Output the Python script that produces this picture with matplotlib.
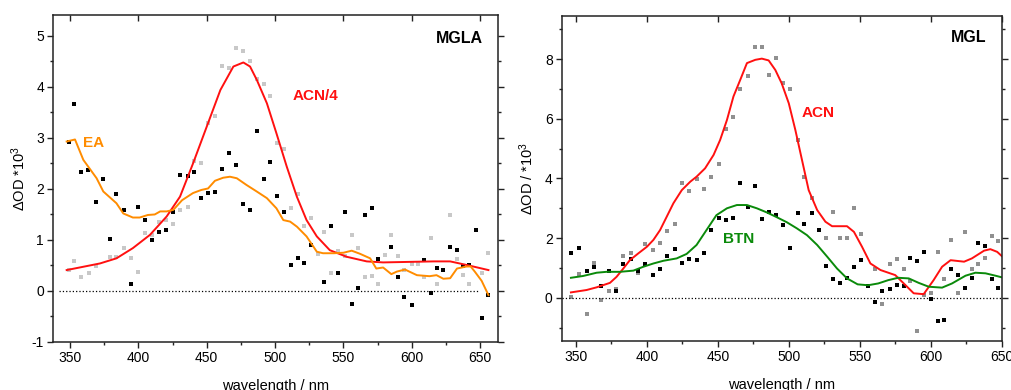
# Imports
import numpy as np
import matplotlib
matplotlib.use('Agg')
import matplotlib.pyplot as plt
from matplotlib.ticker import MultipleLocator

plt.rcParams['font.family'] = ['Liberation Sans', 'DejaVu Sans']
plt.rcParams['mathtext.fontset'] = 'custom'
plt.rcParams['mathtext.rm'] = 'Liberation Sans'
plt.rcParams['mathtext.it'] = 'Liberation Sans:italic'
plt.rcParams['axes.unicode_minus'] = False

# ---------------- MGLA panel data ----------------
# ACN/4 fit (red)
mgla_acn_wl = [347.6, 372, 384, 396, 408.5, 420.7, 430.5, 440, 450, 460, 469.5, 476.8, 481.7,
               486.6, 494, 501, 508.5, 515.9, 523, 530.5, 540, 552.4, 567, 579, 616, 628, 640, 656]
mgla_acn = [0.41, 0.54, 0.64, 0.84, 1.10, 1.46, 1.85, 2.50, 3.22, 3.94, 4.40, 4.48, 4.40,
            4.14, 3.68, 3.09, 2.44, 1.85, 1.39, 1.07, 0.80, 0.67, 0.58, 0.56, 0.58, 0.58, 0.51, 0.41]

# EA trace (orange)
mgla_ea_wl = [347.6, 353.7, 359.8, 369.5, 374.4, 384, 389, 396, 401, 407, 412, 416, 420.7, 425.6,
              432, 440, 446, 451, 456, 462, 467, 472, 479, 486.6, 494, 501, 506, 511, 516, 523,
              530.5, 535, 543, 550, 556, 562, 569.5, 574, 579, 585, 589, 595, 603.7, 613, 618,
              623, 628, 633, 640, 643, 646, 651, 656]
mgla_ea = [2.93, 2.97, 2.57, 2.21, 1.95, 1.72, 1.52, 1.44, 1.44, 1.49, 1.50, 1.56, 1.56, 1.59,
           1.78, 1.92, 1.98, 2.01, 2.16, 2.22, 2.24, 2.21, 2.08, 1.95, 1.82, 1.62, 1.39, 1.36, 1.26, 1.07,
           0.77, 0.74, 0.74, 0.75, 0.79, 0.73, 0.64, 0.44, 0.46, 0.33, 0.38, 0.42, 0.31, 0.29, 0.31,
           0.24, 0.25, 0.44, 0.48, 0.48, 0.38, 0.20, -0.08]

# EA raw points (black)
mgla_ea_pts_wl = [349, 353, 358, 363.4, 369, 374, 379, 384, 389.5, 395, 400, 405, 410, 415, 420.5,
                  425.6, 430.7, 436, 441, 446, 451, 456, 461.5, 466, 471.5, 476.6, 481.7, 486.6,
                  491.7, 496.6, 501.7, 506.6, 511.5, 516.6, 521.5, 526.6, 536, 541, 546, 551, 556,
                  560.7, 565.6, 570.5, 575, 585, 589.8, 594.6, 599.8, 609, 614, 618.5, 623, 628,
                  633, 637.6, 642, 646.8, 651.5, 656]
mgla_ea_pts = [2.93, 3.67, 2.33, 2.37, 1.75, 2.20, 1.02, 1.90, 1.58, 0.13, 1.65, 1.40, 1.00, 1.15, 1.20,
               1.55, 2.27, 2.25, 2.33, 1.82, 1.92, 1.95, 2.40, 2.70, 2.46, 1.70, 1.58, 3.13,
               2.20, 2.52, 1.87, 1.55, 0.50, 0.65, 0.54, 0.90, 0.17, 1.27, 0.35, 1.54, -0.25,
               0.05, 1.48, 1.62, 0.62, 0.87, 0.27, -0.12, -0.27, 0.60, -0.03, 0.45, 0.42, 0.87,
               0.80, 0.48, 0.50, 1.20, -0.53, -0.08]

# ACN/4 raw points (light grey)
mgla_acn_pts_wl = [349, 353, 358, 363.7, 369, 379, 384, 389.5, 395, 400, 405, 410, 415, 420.5, 425.6,
                   430.7, 436, 441, 446, 451, 456, 461.5, 466, 471.5, 476.6, 481.7, 486.6, 491.7,
                   496.6, 501.7, 506.6, 511.5, 516.6, 521.5, 526.6, 531.5, 536, 541, 546, 551, 556,
                   560.7, 565.6, 570.5, 575, 580.5, 585, 589.8, 594.6, 599.8, 604.5, 609, 614,
                   618.5, 623, 628, 633, 637.6, 642, 651.5, 656]
mgla_acn_pts = [0.41, 0.58, 0.27, 0.35, 0.48, 0.67, 0.67, 0.84, 0.65, 0.37, 1.13, 1.09, 1.36, 1.39, 1.31,
                1.58, 1.65, 2.54, 2.50, 3.30, 3.43, 4.42, 4.37, 4.77, 4.71, 4.50, 4.15, 4.05,
                3.82, 2.90, 2.78, 1.62, 1.90, 1.27, 1.44, 0.73, 1.15, 0.35, 0.79, 0.69, 1.09,
                0.85, 0.28, 0.30, 0.13, 0.71, 1.09, 0.69, 0.42, 0.53, 0.53, 0.27, 1.03,
                0.14, 0.42, 1.48, 0.62, 0.31, 0.14, 0.35, 0.75]

# ---------------- MGL panel data ----------------
# ACN fit (red)
mgl_acn_wl = [346.5, 357.5, 364.6, 374, 378.6, 383.4, 388, 394, 400, 404.6, 409.3, 414, 418.7, 424.6,
              430.5, 435, 441, 447, 451.6, 456.4, 461, 465.8, 470.5, 476.4, 481, 485.8, 490.5, 495,
              500, 504.6, 509.3, 514, 520, 525.8, 530.5, 541, 545.9, 551.6, 557.5, 564.6, 575, 581,
              588, 595, 602, 608, 614, 623.5, 629, 637.6, 642, 646.8, 650.5]
mgl_acn = [0.18, 0.26, 0.35, 0.50, 0.70, 0.98, 1.26, 1.49, 1.71, 1.94, 2.27, 2.72, 3.17, 3.61,
           3.89, 4.06, 4.34, 4.79, 5.29, 5.96, 6.75, 7.31, 7.87, 7.98, 8.02, 7.96, 7.64, 7.19,
           6.52, 5.63, 4.62, 3.61, 2.94, 2.55, 2.40, 2.40, 2.21, 1.71, 1.15, 0.93, 0.76, 0.48,
           0.15, 0.12, 0.59, 1.04, 1.26, 1.21, 1.32, 1.58, 1.63, 1.54, 1.38]

# BTN fit (green)
mgl_btn_wl = [346.5, 355, 364.6, 371.6, 381, 390.5, 397.5, 404.6, 411.6, 421, 428, 435, 442, 449,
              456.4, 463.4, 470.5, 477.5, 484.6, 491.6, 498.7, 505.6, 512.8, 520, 527, 534, 541,
              548.5, 555.8, 563, 570, 577, 584.5, 591.5, 598.6, 608, 615, 624.5, 631.5, 638.6,
              645.6, 650.5]
mgl_btn = [0.67, 0.73, 0.84, 0.87, 0.87, 0.91, 1.04, 1.15, 1.24, 1.32, 1.47, 1.77, 2.27, 2.77,
           3.00, 3.11, 3.11, 3.00, 2.86, 2.70, 2.53, 2.33, 2.10, 1.77, 1.38, 0.98, 0.65,
           0.45, 0.42, 0.48, 0.59, 0.67, 0.65, 0.50, 0.37, 0.34, 0.48, 0.74, 0.84, 0.82,
           0.74, 0.68]

# BTN raw points (black)
mgl_btn_pts_wl = [346.5, 352, 357.5, 362.7, 367.9, 373, 378, 383.4, 388.5, 393.8, 399, 404, 409.3,
                  414.5, 420, 425, 430, 435, 440, 445.5, 450.7, 455.6, 460.6, 465.8, 471, 476, 481,
                  486, 491, 496, 501, 506.4, 511, 516.5, 521.5, 526.4, 531.3, 536.2, 541, 546, 551,
                  556, 561, 566, 571, 576, 581, 585.6, 590.6, 595.5, 600.5, 605, 609.6, 614.4,
                  619.3, 624, 629, 633.5, 638, 643, 647.5]
mgl_btn_pts = [1.51, 1.66, 0.91, 1.02, 0.39, 0.89, 0.23, 1.12, 1.30, 0.89, 1.14, 0.78, 0.95,
               1.40, 1.63, 1.15, 1.29, 1.26, 1.49, 2.26, 2.66, 2.61, 2.68, 3.84, 3.03, 3.75, 2.63,
               2.86, 2.77, 2.44, 1.66, 2.83, 2.49, 2.83, 2.27, 1.08, 0.63, 0.51, 0.65, 1.02, 1.26,
               0.39, -0.13, 0.23, 0.30, 0.43, 0.39, 1.32, 1.24, 1.54, -0.04, -0.77, -0.73, 0.96,
               0.76, 0.34, 0.67, 1.82, 1.73, 0.62, 0.34]

# ACN raw points (grey)
mgl_acn_pts_wl = [346.5, 352, 357.5, 362.7, 367.9, 373, 378, 383.4, 388.5, 393.8, 399, 404, 409.3,
                  414.5, 420, 425, 430, 435, 440, 445.5, 450.7, 455.6, 460.6, 465.8, 471, 476, 481,
                  486, 491, 496, 501, 506.4, 511, 516.5, 526.4, 531.3, 536.2, 541, 546, 551,
                  561, 566, 571, 576, 581, 585.6, 590.6, 595.5, 600.5, 605, 609.6, 614.4,
                  619.3, 624, 629, 633.5, 638, 643, 647.5]
mgl_acn_pts = [0.03, 0.79, -0.56, 1.15, -0.06, 0.23, 0.30, 1.40, 1.49, 0.84, 1.79, 1.60, 1.85,
               2.25, 2.49, 3.84, 3.59, 3.98, 3.64, 4.04, 4.49, 5.65, 6.05, 6.99, 7.44, 8.40, 8.40,
               7.47, 8.03, 7.19, 6.99, 5.29, 4.04, 3.33, 2.02, 2.89, 1.99, 2.02, 3.00, 2.13,
               0.98, -0.21, 1.13, 1.29, 0.98, 0.57, -1.12, 0.09, 0.15, 1.52, 0.64, 1.94,
               0.17, 2.19, 0.95, 1.13, 1.32, 2.08, 1.90]

# Colours
red = '#ff1010'
orange = '#ff8c00'
green = '#0a8a0a'

# Create figure
fig = plt.figure(figsize=(10.11, 3.9), dpi=100)
ax1 = fig.add_axes([0.0524, 0.1231, 0.4402, 0.8384])
ax2 = fig.add_axes([0.5556, 0.1264, 0.4352, 0.8326])


def style_axis(ax):
    for s in ax.spines.values():
        s.set_linewidth(1.1)
        s.set_color('#222222')
    ax.xaxis.set_major_locator(MultipleLocator(50))
    ax.xaxis.set_minor_locator(MultipleLocator(25))
    ax.tick_params(which='major', direction='out', length=4.5, width=1, labelsize=10, pad=2,
                   color='#222222')
    ax.tick_params(which='minor', direction='out', length=2.5, width=1, color='#222222')
    # right side ticks, short, outward
    ax.tick_params(axis='y', which='both', right=True, labelright=False)
    ax.tick_params(axis='y', which='major', length=4.5)
    # top ticks point inward, majors only
    sec = ax.secondary_xaxis('top')
    sec.xaxis.set_major_locator(MultipleLocator(50))
    sec.tick_params(direction='in', length=4.5, width=1, labeltop=False, color='#222222')
    sec.spines['top'].set_visible(False)
    ax.set_xlabel('wavelength / nm', fontsize=10.5, labelpad=10)


# Left panel: MGLA
ax = ax1
ax.plot(mgla_acn_pts_wl, mgla_acn_pts, 's', color='#c8c8c8', ms=2.2, mew=0)
ax.plot(mgla_ea_pts_wl, mgla_ea_pts, 's', color='black', ms=2.2, mew=0)
ax.plot([342, 648], [0, 0], ':', color='black', lw=0.9)
ax.plot(mgla_acn_wl, mgla_acn, color=red, lw=1.4)
ax.plot(mgla_ea_wl, mgla_ea, color=orange, lw=1.4)
ax.set_xlim(337.6, 663)
ax.set_ylim(-1, 5.41)
ax.yaxis.set_major_locator(MultipleLocator(1))
ax.yaxis.set_minor_locator(MultipleLocator(0.5))
style_axis(ax)
ax.set_ylabel(r'$\Delta$OD *10$^{3}$', fontsize=10.5, labelpad=3)
ax.text(0.966, 0.927, 'MGLA', transform=ax.transAxes, fontsize=11.5, fontweight='bold',
        ha='right', va='center')
ax.text(513, 3.82, 'ACN/4', color=red, fontsize=11, fontweight='bold', va='center')
ax.text(359.7, 2.9, 'EA', color=orange, fontsize=11, fontweight='bold', va='center')

# Right panel: MGL
ax = ax2
ax.plot(mgl_acn_pts_wl, mgl_acn_pts, 's', color='#909090', ms=2.2, mew=0)
ax.plot(mgl_btn_pts_wl, mgl_btn_pts, 's', color='black', ms=2.2, mew=0)
ax.plot([340, 650], [0, 0], ':', color='black', lw=0.9)
ax.plot(mgl_acn_wl, mgl_acn, color=red, lw=1.4)
ax.plot(mgl_btn_wl, mgl_btn, color=green, lw=1.4)
ax.set_xlim(340, 650)
ax.set_ylim(-1.44, 9.45)
ax.yaxis.set_major_locator(MultipleLocator(2))
ax.yaxis.set_minor_locator(MultipleLocator(1))
style_axis(ax)
ax.set_ylabel(r'$\Delta$OD / *10$^{3}$', fontsize=10.5, labelpad=6)
ax.text(0.966, 0.935, 'MGL', transform=ax.transAxes, fontsize=11.5, fontweight='bold',
        ha='right', va='center')
ax.text(508.8, 6.2, 'ACN', color=red, fontsize=11, fontweight='bold', va='center')
ax.text(453.5, 1.97, 'BTN', color=green, fontsize=11, fontweight='bold', va='center')

fig.savefig('out.png', dpi=100)
